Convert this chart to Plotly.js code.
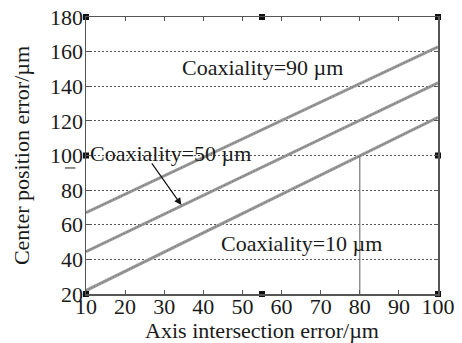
<!DOCTYPE html>
<html>
<head>
<meta charset="utf-8">
<script src="https://cdn.plot.ly/plotly-3.0.1.min.js"></script>
<style>html,body{margin:0;padding:0;background:#fff}#chart{width:462px;height:343px}</style>
</head>
<body>
<div id="chart"></div>
<script>
const axisX = [10, 100];
const coax90 = [67, 162.7];
const coax50 = [44.5, 142];
const coax10 = [22, 122];
const xTicks = [10, 20, 30, 40, 50, 60, 70, 80, 90, 100];
const yTicks = [20, 40, 60, 80, 100, 120, 140, 160, 180];
const markX = 80, markY = 100;
const handleX = [10, 55, 100, 10, 55, 100, 10, 100];
const handleY = [180, 180, 180, 20, 20, 20, 100, 100];

const lineStyle = {color: '#9a9a9a', width: 3};
const hatch = {color: '#6a6a6a', width: 1, dash: '1px,2px'};
const traces = [];
[coax90, coax50, coax10].forEach(function (ys) {
  traces.push({x: axisX, y: ys, mode: 'lines', line: lineStyle, hoverinfo: 'skip', showlegend: false});
  traces.push({x: axisX, y: ys, mode: 'lines', line: hatch, hoverinfo: 'skip', showlegend: false});
});
traces.push({x: [markX, markX], y: [20, markY], mode: 'lines', line: {color: '#777', width: 1.2}, showlegend: false});
traces.push({x: handleX, y: handleY, mode: 'markers', marker: {symbol: 'square', size: 6, color: '#111'}, cliponaxis: false, showlegend: false});

const font = {family: 'Liberation Serif, Times New Roman, serif', size: 22, color: '#1a1a1a'};
const layout = {
  width: 462, height: 343,
  margin: {l: 86, r: 24, t: 17, b: 49},
  paper_bgcolor: '#fff', plot_bgcolor: '#fff',
  font: font,
  showlegend: false,
  xaxis: {
    range: [10, 100], tickvals: xTicks, ticktext: xTicks.map(String),
    ticks: 'inside', ticklen: 4, tickcolor: '#555', tickwidth: 1,
    showline: true, linecolor: '#555', linewidth: 1.5, mirror: 'ticks',
    showgrid: false, zeroline: false,
    tickfont: font, ticklabelstandoff: -8,
    title: {text: 'Axis intersection error/\u00b5m', font: font, standoff: 1}
  },
  yaxis: {
    range: [20, 180], tickvals: yTicks, ticktext: yTicks.map(String),
    ticks: 'inside', ticklen: 4, tickcolor: '#555', tickwidth: 1,
    showline: true, linecolor: '#555', linewidth: 1.5, mirror: 'ticks',
    showgrid: true, gridcolor: '#555', griddash: '2px,2px', gridwidth: 1,
    zeroline: false,
    tickfont: font, ticklabelstandoff: -3,
    title: {text: 'Center position error/\u00b5m', font: font, standoff: 14}
  },
  annotations: [
    {x: 0.267, y: 0.816, xref: 'paper', yref: 'paper', text: 'Coaxiality=90 \u00b5m', showarrow: false, xanchor: 'left', yanchor: 'middle', font: font},
    {x: 0.006, y: 0.509, xref: 'paper', yref: 'paper', text: 'Coaxiality=50 \u00b5m', showarrow: false, xanchor: 'left', yanchor: 'middle', font: font},
    {x: 0.378, y: 0.184, xref: 'paper', yref: 'paper', text: 'Coaxiality=10 \u00b5m', showarrow: false, xanchor: 'left', yanchor: 'middle', font: font},
    {x: 0.271, y: 0.321, xref: 'paper', yref: 'paper', ax: 0.184, ay: 0.477, axref: 'paper', ayref: 'paper',
     text: '', showarrow: true, arrowhead: 2, arrowsize: 1.2, arrowwidth: 1.2, arrowcolor: '#111'}
  ],
  shapes: [
    {type: 'line', xref: 'paper', yref: 'paper', x0: -0.06, x1: -0.03, y0: 0.455, y1: 0.455, line: {color: '#444', width: 1.2}}
  ]
};
Plotly.newPlot('chart', traces, layout, {staticPlot: true, displayModeBar: false});
</script>
</body>
</html>
